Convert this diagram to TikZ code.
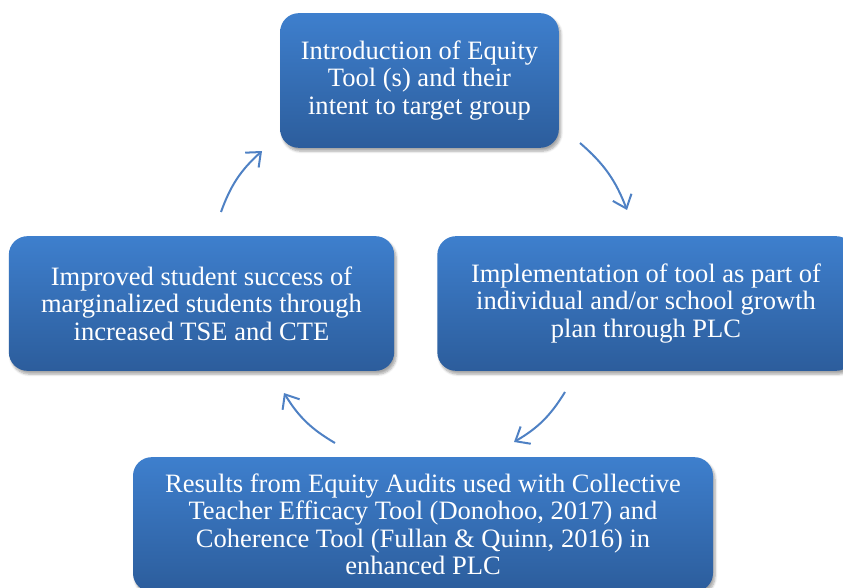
\documentclass[tikz,border=0pt]{standalone}
\usepackage{fontspec}
\setmainfont{Liberation Serif}
\usetikzlibrary{arrows.meta,shadows.blur}
\definecolor{stagetop}{RGB}{62,127,205}
\definecolor{stagebottom}{RGB}{44,93,156}
\definecolor{cyclearrow}{RGB}{79,129,196}
\tikzset{
  every picture/.style={font={\fontsize{19.9}{20.6}\selectfont}, >={Straight Barb[length=9pt, width=15pt]}}}

\begin{document}
\begin{tikzpicture}[x=0.75pt, y=-0.75pt]
    \tikzstyle{stage}=[rounded corners=14pt, top color=stagetop, bottom color=stagebottom,
      text=white, align=center, minimum height=101pt, inner sep=0pt,
      blur shadow={shadow xshift=1.5pt, shadow yshift=-2.5pt, shadow blur steps=6, shadow opacity=35}]
    \tikzstyle{cycle}=[->, draw=cyclearrow, line width=1.5pt]

    \useasboundingbox (0, 0) rectangle (843, 588);

    \begin{scope}
      \node[stage, minimum width=209pt] (intro)   at (419.5, 80.5)  {Introduction of Equity\\Tool (s) and their\\intent to target group};
      \node[stage, minimum width=313pt] (implement) at (646, 303.5) {Implementation of tool as part of\\individual and/or school growth\\plan through PLC};
      \node[stage, minimum width=435pt] (results) at (423, 524.5)  {Results from Equity Audits used with Collective\\Teacher Efficacy Tool (Donohoo, 2017) and\\Coherence Tool (Fullan \& Quinn, 2016) in\\enhanced PLC};
      \node[stage, minimum width=289pt] (improve) at (201.5, 303.5) {Improved student success of\\marginalized students through\\increased TSE and CTE};
    \end{scope}

    \begin{scope}
      \coordinate (a1s) at (580, 143);  \coordinate (a1e) at (627, 210);
      \coordinate (a2s) at (565, 392);  \coordinate (a2e) at (514, 442);
      \coordinate (a3s) at (335, 443);  \coordinate (a3e) at (284, 393);
      \coordinate (a4s) at (221, 212);  \coordinate (a4e) at (262, 151);
    \end{scope}

    \begin{scope}
      \draw[cycle] (a1s) to [bend left=14] (a1e);
      \draw[cycle] (a2s) to [bend left=14] (a2e);
      \draw[cycle] (a3s) to [bend left=14] (a3e);
      \draw[cycle] (a4s) to [bend left=14] (a4e);
    \end{scope}
  \end{tikzpicture}
\end{document}
